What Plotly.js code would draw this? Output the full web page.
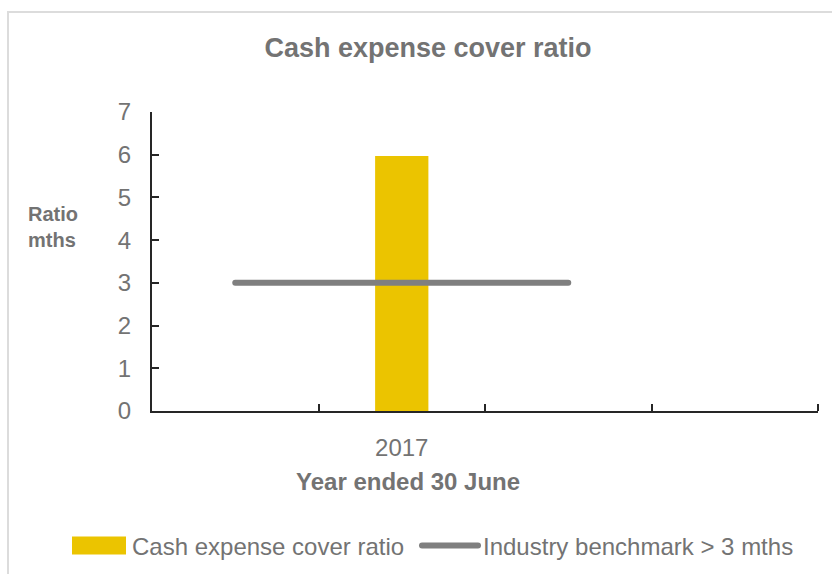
<!DOCTYPE html>
<html>
<head>
<meta charset="utf-8">
<script src="https://cdn.plot.ly/plotly-3.0.1.min.js"></script>
<style>
  html, body { margin: 0; padding: 0; background: #ffffff; }
  #wrap { position: relative; width: 832px; height: 574px; overflow: hidden; }
  #frame { position: absolute; left: 7px; top: 11px; width: 900px; height: 700px;
           border: 2px solid #dcdcdc; box-sizing: border-box; pointer-events: none; z-index: 5; }
  #chart { position: absolute; left: 0; top: 0; width: 832px; height: 574px; }
  #chart .js-line { stroke-linecap: round; }
  #chart .legend .traces:first-of-type .legendpoints path { d: path("M27,9H-27V-9H27Z"); }
  #chart .legend, #chart .legend * { clip-path: none !important; }
</style>
</head>
<body>
<div id="wrap">
  <div id="chart"></div>
  <div id="frame"></div>
</div>
<script>
// ---- data ----
const categories = [" ", "2017", "  ", "   "];
const barCategories = ["2017"];
const barValues = [5.97];
const benchmarkCategories = [" ", "2017", "  "];
const benchmarkValues = [3, 3, 3];
const chartTitle = "Cash expense cover ratio";
const xAxisTitle = "Year ended 30 June";
const yAxisTitle = "Ratio<br>mths";
const barName = "Cash expense cover ratio";
const lineName = "Industry benchmark > 3 mths";
const yTicks = [0, 1, 2, 3, 4, 5, 6, 7];

const FONT = "Liberation Sans, Arial, sans-serif";
const GREY = "#737373";

const traces = [
  {
    type: "bar",
    x: barCategories,
    y: barValues,
    name: barName,
    marker: { color: "#EBC400", line: { width: 0 } },
    hoverinfo: "y"
  },
  {
    type: "scatter",
    mode: "lines",
    x: benchmarkCategories,
    y: benchmarkValues,
    name: lineName,
    line: { color: "#7f7f7f", width: 6 },
    hoverinfo: "y"
  }
];

const layout = {
  width: 832,
  height: 574,
  margin: { l: 152, r: 14, t: 112, b: 163, pad: 0, autoexpand: false },
  paper_bgcolor: "rgba(0,0,0,0)",
  plot_bgcolor: "rgba(0,0,0,0)",
  font: { family: FONT, color: GREY, size: 24 },
  title: {
    text: chartTitle,
    font: { family: FONT, size: 27, color: GREY, weight: "bold" },
    x: 428 / 832, xref: "container", xanchor: "center",
    y: 1 - 48 / 574, yref: "container", yanchor: "middle"
  },
  bargap: 0.68,
  showlegend: true,
  legend: {
    orientation: "h",
    x: (66 - 152) / 666, xref: "paper", xanchor: "left",
    y: (411 - 546) / 299, yref: "paper", yanchor: "middle",
    font: { family: FONT, size: 24, color: GREY },
    traceorder: "normal",
    itemwidth: 56,
    entrywidth: 280,
    bgcolor: "rgba(0,0,0,0)"
  },
  xaxis: {
    type: "category",
    categoryorder: "array",
    categoryarray: categories,
    range: [-0.5, 3.5],
    tickson: "boundaries",
    ticks: "inside",
    ticklen: 7,
    tickwidth: 2,
    tickcolor: "#262626",
    showline: true,
    linecolor: "#262626",
    linewidth: 2,
    showgrid: false,
    zeroline: false,
    ticklabelstandoff: 14,
    tickfont: { family: FONT, size: 24, color: GREY },
    fixedrange: true
  },
  yaxis: {
    range: [0, 7],
    tickvals: yTicks,
    ticks: "inside",
    ticklen: 7,
    tickwidth: 2,
    tickcolor: "#262626",
    showline: true,
    linecolor: "#262626",
    linewidth: 2,
    showgrid: false,
    zeroline: false,
    ticklabelstandoff: 14,
    tickfont: { family: FONT, size: 24, color: GREY },
    fixedrange: true
  },
  shapes: [
    {
      type: "line",
      xref: "paper", yref: "paper",
      x0: 1, x1: 1, y0: 0, y1: 7 / 299,
      line: { color: "#262626", width: 2 }
    }
  ],
  annotations: [
    {
      text: xAxisTitle,
      xref: "paper", yref: "paper",
      x: (408 - 152) / 666, y: (411 - 481) / 299,
      xanchor: "center", yanchor: "middle",
      showarrow: false,
      font: { family: FONT, size: 24, color: GREY, weight: "bold" }
    },
    {
      text: yAxisTitle,
      xref: "paper", yref: "paper",
      x: (26 - 152) / 666, y: (411 - 227) / 299,
      xanchor: "left", yanchor: "middle",
      align: "left",
      showarrow: false,
      font: { family: FONT, size: 20, color: GREY, weight: "bold" }
    }
  ]
};

Plotly.newPlot("chart", traces, layout, { displayModeBar: false, staticPlot: true });
</script>
</body>
</html>
